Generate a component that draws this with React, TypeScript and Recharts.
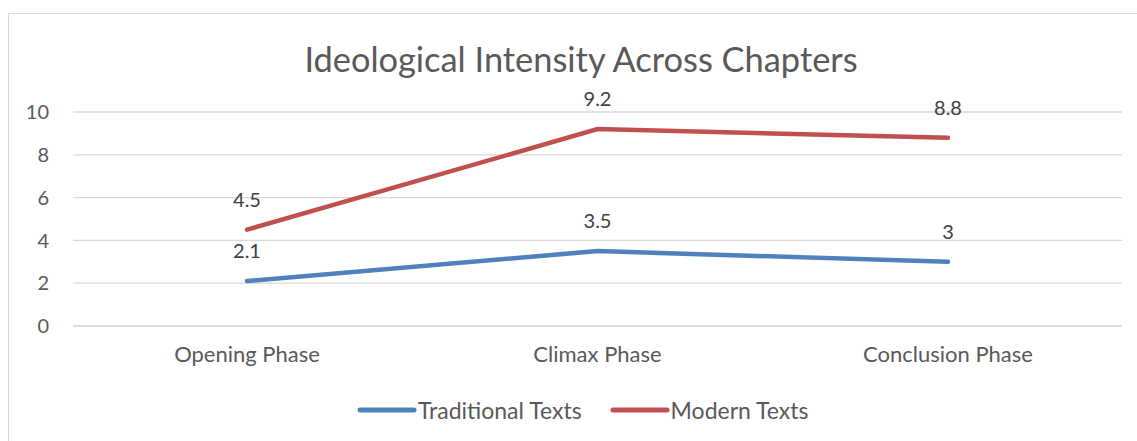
import { LineChart, Line, XAxis, YAxis, CartesianGrid, LabelList } from 'recharts'

const phases = ['Opening Phase', 'Climax Phase', 'Conclusion Phase']
const traditionalTexts = [2.1, 3.5, 3]
const modernTexts = [4.5, 9.2, 8.8]
const yTicks = [0, 2, 4, 6, 8, 10]

const data = phases.map((phase, i) => ({
  phase,
  traditional: traditionalTexts[i],
  modern: modernTexts[i],
}))

const FONT = 'Lato, "Open Sans", sans-serif'
const BLUE = '#4F81BD'
const RED = '#C0504D'

const PointLabel = (props: any) => {
  const { x, y, value } = props
  return (
    <text x={x} y={y - 31} textAnchor="middle" dominantBaseline="central" fontFamily={FONT} fontSize={20} fill="#404040">
      {value}
    </text>
  )
}

const legendItems = [
  { name: 'Traditional Texts', color: BLUE },
  { name: 'Modern Texts', color: RED },
]

export default function App() {
  return (
    <div style={{ position: 'absolute', left: 8, top: 13, width: 1129, height: 428, borderTop: '1px solid #d9d9d9', borderLeft: '1px solid #d9d9d9', boxSizing: 'border-box', overflow: 'hidden' }}>
      <div style={{ position: 'absolute', left: 0, width: 1144, top: 25, textAlign: 'center', fontFamily: FONT, fontSize: 34.4, color: '#595959', lineHeight: '40px' }}>
        Ideological Intensity Across Chapters
      </div>
      <LineChart width={1128} height={428} data={data} margin={{ top: 98, right: 15, bottom: 56, left: 24 }}>
        <CartesianGrid vertical={false} stroke="#d9d9d9" strokeWidth={1.3} />
        <XAxis
          dataKey="phase"
          axisLine={{ stroke: '#d9d9d9', strokeWidth: 1.3 }}
          tickLine={false}
          tickSize={0}
          tickMargin={20}
          height={60}
          padding={{ left: 174, right: 174 }}
          tick={{ fontFamily: FONT, fontSize: 22, fill: '#595959' }}
        />
        <YAxis
          domain={[0, 10]}
          ticks={yTicks}
          axisLine={false}
          tickLine={false}
          tickSize={0}
          tickMargin={24}
          width={40}
          tick={{ fontFamily: FONT, fontSize: 20, fill: '#595959' }}
        />
        <Line dataKey="traditional" name="Traditional Texts" stroke={BLUE} strokeWidth={4.5} strokeLinecap="round" dot={false} isAnimationActive={false}>
          <LabelList dataKey="traditional" content={PointLabel} />
        </Line>
        <Line dataKey="modern" name="Modern Texts" stroke={RED} strokeWidth={4.5} strokeLinecap="round" dot={false} isAnimationActive={false}>
          <LabelList dataKey="modern" content={PointLabel} />
        </Line>
      </LineChart>
      <div style={{ position: 'absolute', left: 348, top: 382, display: 'flex', alignItems: 'center', fontFamily: FONT, fontSize: 23, color: '#595959', lineHeight: '28px' }}>
        {legendItems.map((item) => (
          <div key={item.name} style={{ display: 'flex', alignItems: 'center', marginRight: 28 }}>
            <svg width={60} height={10}>
              <line x1={3} y1={5} x2={57} y2={5} stroke={item.color} strokeWidth={5} strokeLinecap="round" />
            </svg>
            <span style={{ marginLeft: 1 }}>{item.name}</span>
          </div>
        ))}
      </div>
    </div>
  )
}
